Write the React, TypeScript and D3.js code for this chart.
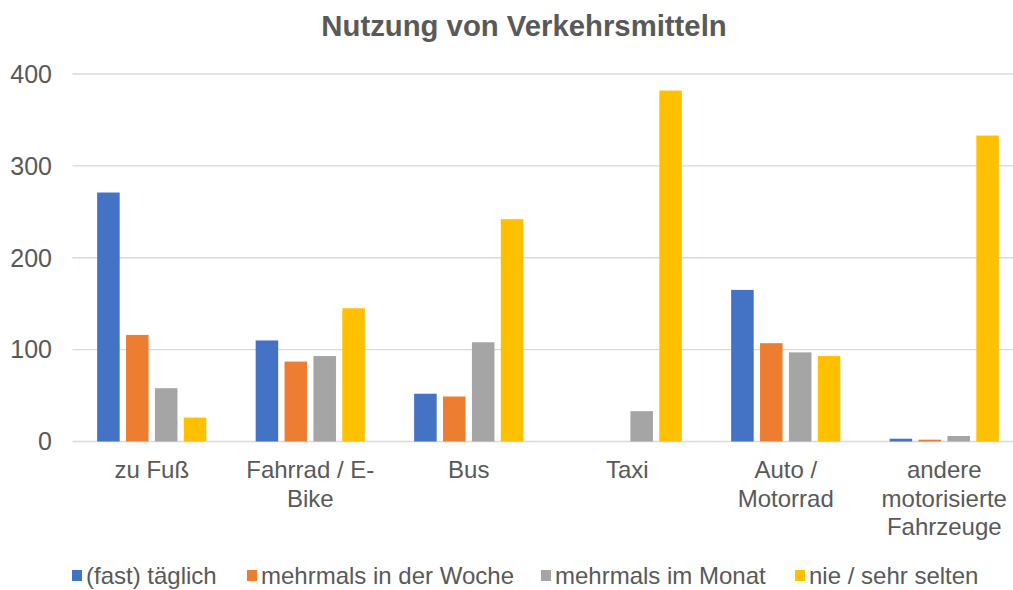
import React, { useEffect, useRef } from "react";
import * as d3 from "d3";

const categories = [
  "zu Fuß",
  "Fahrrad / E-Bike",
  "Bus",
  "Taxi",
  "Auto / Motorrad",
  "andere motorisierte Fahrzeuge",
];
// how the category labels wrap under the axis
const categoryLines = [
  ["zu Fuß"],
  ["Fahrrad / E-", "Bike"],
  ["Bus"],
  ["Taxi"],
  ["Auto /", "Motorrad"],
  ["andere", "motorisierte", "Fahrzeuge"],
];
const seriesNames = [
  "(fast) täglich",
  "mehrmals in der Woche",
  "mehrmals im Monat",
  "nie / sehr selten",
];
const taeglich = [271, 110, 52, 0, 165, 3];
const woche = [116, 87, 49, 0, 107, 2];
const monat = [58, 93, 108, 33, 97, 6];
const selten = [26, 145, 242, 382, 93, 333];
const yTicks = [0, 100, 200, 300, 400];

const colors = ["#4472C4", "#ED7D31", "#A5A5A5", "#FFC000"];
const FONT = "'Liberation Sans', Arial, sans-serif";

const BarChart = () => {
  const ref = useRef<SVGSVGElement>(null);

  useEffect(() => {
    const width = 1013;
    const height = 590;
    const left = 72.5;
    const right = 1023.5; // plot area runs past the cropped right edge
    const top = 74;
    const bottom = 441.5;

    const series = [taeglich, woche, monat, selten];

    const x0 = d3
      .scaleBand()
      .domain(categories)
      .range([left, right])
      .paddingInner(0.311)
      .paddingOuter(0.1555);

    const x1 = d3
      .scaleBand()
      .domain(seriesNames)
      .range([0, x0.bandwidth()])
      .paddingInner(0.22);

    const y = d3.scaleLinear().domain([0, 400]).range([bottom, top]);

    const svg = d3.select(ref.current);
    svg.selectAll("*").remove();
    svg.attr("width", width).attr("height", height);

    // title
    svg
      .append("text")
      .attr("x", 524)
      .attr("y", 36)
      .attr("text-anchor", "middle")
      .attr("font-family", FONT)
      .attr("font-weight", "bold")
      .attr("font-size", 29.3)
      .attr("fill", "#595959")
      .text("Nutzung von Verkehrsmitteln");

    // gridlines
    svg
      .append("g")
      .selectAll("line")
      .data(yTicks)
      .enter()
      .append("line")
      .attr("x1", left)
      .attr("x2", width)
      .attr("y1", (d) => y(d))
      .attr("y2", (d) => y(d))
      .attr("stroke", "#D9D9D9")
      .attr("stroke-width", 1.3);

    // y tick labels
    svg
      .append("g")
      .selectAll("text")
      .data(yTicks)
      .enter()
      .append("text")
      .attr("x", 52)
      .attr("y", (d) => y(d))
      .attr("dy", "0.35em")
      .attr("text-anchor", "end")
      .attr("font-family", FONT)
      .attr("font-size", 25)
      .attr("fill", "#595959")
      .text((d) => d);

    // bars
    const groups = svg
      .append("g")
      .selectAll("g")
      .data(categories)
      .enter()
      .append("g")
      .attr("transform", (c) => `translate(${x0(c)},0)`);

    groups
      .selectAll("rect")
      .data((c, i) => series.map((s, k) => ({ name: seriesNames[k], v: s[i], k })))
      .enter()
      .append("rect")
      .attr("x", (d) => x1(d.name)!)
      .attr("y", (d) => y(d.v))
      .attr("width", x1.bandwidth())
      .attr("height", (d) => bottom - y(d.v))
      .attr("fill", (d) => colors[d.k]);

    // category labels
    const labels = svg
      .append("g")
      .selectAll("text")
      .data(categories)
      .enter()
      .append("text")
      .attr("x", (c) => x0(c)! + x0.bandwidth() / 2)
      .attr("y", 478)
      .attr("text-anchor", "middle")
      .attr("font-family", FONT)
      .attr("font-size", 24)
      .attr("fill", "#595959");

    labels
      .selectAll("tspan")
      .data((c, i) => categoryLines[i])
      .enter()
      .append("tspan")
      .attr("x", function () {
        return (this.parentNode as SVGTextElement).getAttribute("x");
      })
      .attr("dy", (d, i) => (i === 0 ? 0 : 28.7))
      .text((d) => d);

    // legend
    const legendX = [72, 247, 541, 795];
    const legend = svg
      .append("g")
      .selectAll("g")
      .data(seriesNames)
      .enter()
      .append("g")
      .attr("transform", (d, i) => `translate(${legendX[i]},0)`);

    legend
      .append("rect")
      .attr("x", 0)
      .attr("y", 570)
      .attr("width", 10)
      .attr("height", 11)
      .attr("fill", (d, i) => colors[i]);

    legend
      .append("text")
      .attr("x", 14)
      .attr("y", 584)
      .attr("font-family", FONT)
      .attr("font-size", 24)
      .attr("fill", "#595959")
      .text((d) => d);
  }, []);

  return (
    <svg
      ref={ref}
      style={{ position: "absolute", left: 0, top: 0, background: "#fff" }}
    ></svg>
  );
};

export default function App() {
  return <BarChart />;
}
